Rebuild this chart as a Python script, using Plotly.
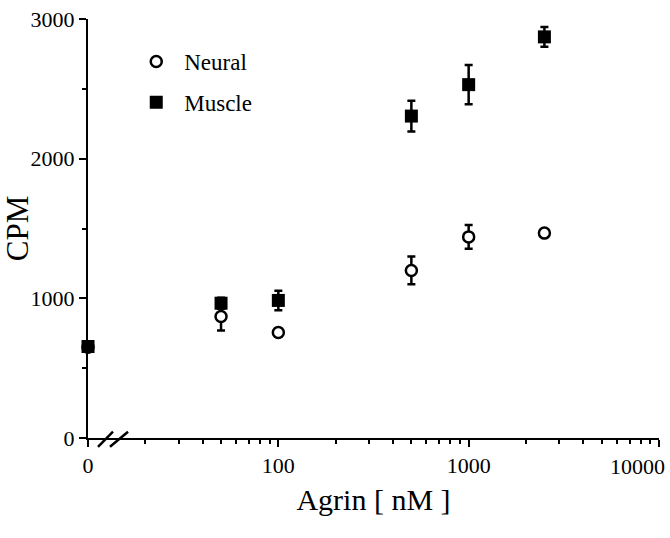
import plotly.graph_objects as go

# ---- data ----
agrin_nM = [0, 50, 100, 500, 1000, 2500]           # concentrations; 0 is drawn at the axis-break origin
neural_cpm = [650, 870, 755, 1200, 1440, 1467]
neural_err = [0, 100, 30, 100, 85, 0]
muscle_cpm = [655, 965, 985, 2305, 2530, 2872]
muscle_err = [30, 40, 70, 110, 140, 70]

x_tick_vals = [10, 100, 1000, 10000]
x_tick_text = ["0", "100", "1000", "10000"]
y_tick_vals = [0, 1000, 2000, 3000]

ZERO_POS = 10  # position on the log axis where "0" (no agrin) is drawn
plot_x = [c if c > 0 else ZERO_POS for c in agrin_nM]

FONT = "Liberation Serif"

fig = go.Figure()

fig.add_trace(go.Scatter(
    x=plot_x, y=neural_cpm, name="Neural", mode="markers",
    marker=dict(symbol="circle", size=11, color="white",
                line=dict(color="black", width=2.5)),
    error_y=dict(type="data", array=neural_err, visible=True,
                 color="black", thickness=2.5, width=4),
    legendgroup="n", legendrank=1, cliponaxis=False,
))
fig.add_trace(go.Scatter(
    x=plot_x, y=muscle_cpm, name="Muscle", mode="markers",
    marker=dict(symbol="square", size=13, color="black",
                line=dict(color="black", width=0)),
    error_y=dict(type="data", array=muscle_err, visible=True,
                 color="black", thickness=2.5, width=4),
    legendgroup="m", legendrank=2, cliponaxis=False,
))

minor_x = [v * m for v in (10, 100, 1000) for m in range(2, 10)]

# the last tick label sits flush with the right edge (as in the reference),
# so it is drawn as an annotation anchored at that tick
shown_ticktext = x_tick_text[:-1] + [""]

fig.update_xaxes(
    type="log", range=[0.99995, 4.00005],
    tickmode="array", tickvals=x_tick_vals, ticktext=shown_ticktext,
    ticks="outside", ticklen=7, tickwidth=2, tickcolor="black",
    showline=True, linecolor="black", linewidth=2,
    showgrid=False, zeroline=False, automargin=False,
    tickfont=dict(family=FONT, size=22, color="black"),
    minor=dict(tickmode="array", tickvals=minor_x, ticks="outside",
               ticklen=4, tickwidth=1.5, tickcolor="black", showgrid=False),
    title=dict(text="Agrin [ nM ]", font=dict(family=FONT, size=30, color="black"),
               standoff=12),
)
fig.update_yaxes(
    range=[0, 3000],
    tickmode="array", tickvals=y_tick_vals,
    ticks="outside", ticklen=7, tickwidth=2, tickcolor="black",
    showline=True, linecolor="black", linewidth=2,
    showgrid=False, zeroline=False, automargin=False,
    tickfont=dict(family=FONT, size=22, color="black"),
    minor=dict(tickmode="array", tickvals=[500, 1500, 2500], ticks="outside",
               ticklen=4, tickwidth=1.5, tickcolor="black", showgrid=False),
    title=dict(text="CPM", font=dict(family=FONT, size=31, color="black"),
               standoff=0),
)

import math
fig.add_annotation(
    x=math.log10(x_tick_vals[-1]), xref="x", y=0, yref="paper",
    text=x_tick_text[-1], showarrow=False,
    xanchor="right", yanchor="top", xshift=8, yshift=-14,
    font=dict(family=FONT, size=22, color="black"),
)

# axis-break marks "//" near the origin
for x0, x1 in [(0.0175, 0.0438), (0.0385, 0.0701)]:
    fig.add_shape(type="line", xref="paper", yref="paper",
                  x0=x0, y0=-0.021, x1=x1, y1=0.015,
                  line=dict(color="black", width=2.5))

fig.update_layout(
    width=670, height=538,
    margin=dict(l=88, r=11, t=19, b=100),
    paper_bgcolor="white", plot_bgcolor="white",
    font=dict(family=FONT, color="black"),
    showlegend=True,
    legend=dict(x=0.0705, y=0.95, xanchor="left", yanchor="top",
                font=dict(family=FONT, size=23, color="black"),
                bgcolor="rgba(0,0,0,0)", traceorder="grouped",
                tracegroupgap=8, itemwidth=46),
)

fig.write_html("out.html")
